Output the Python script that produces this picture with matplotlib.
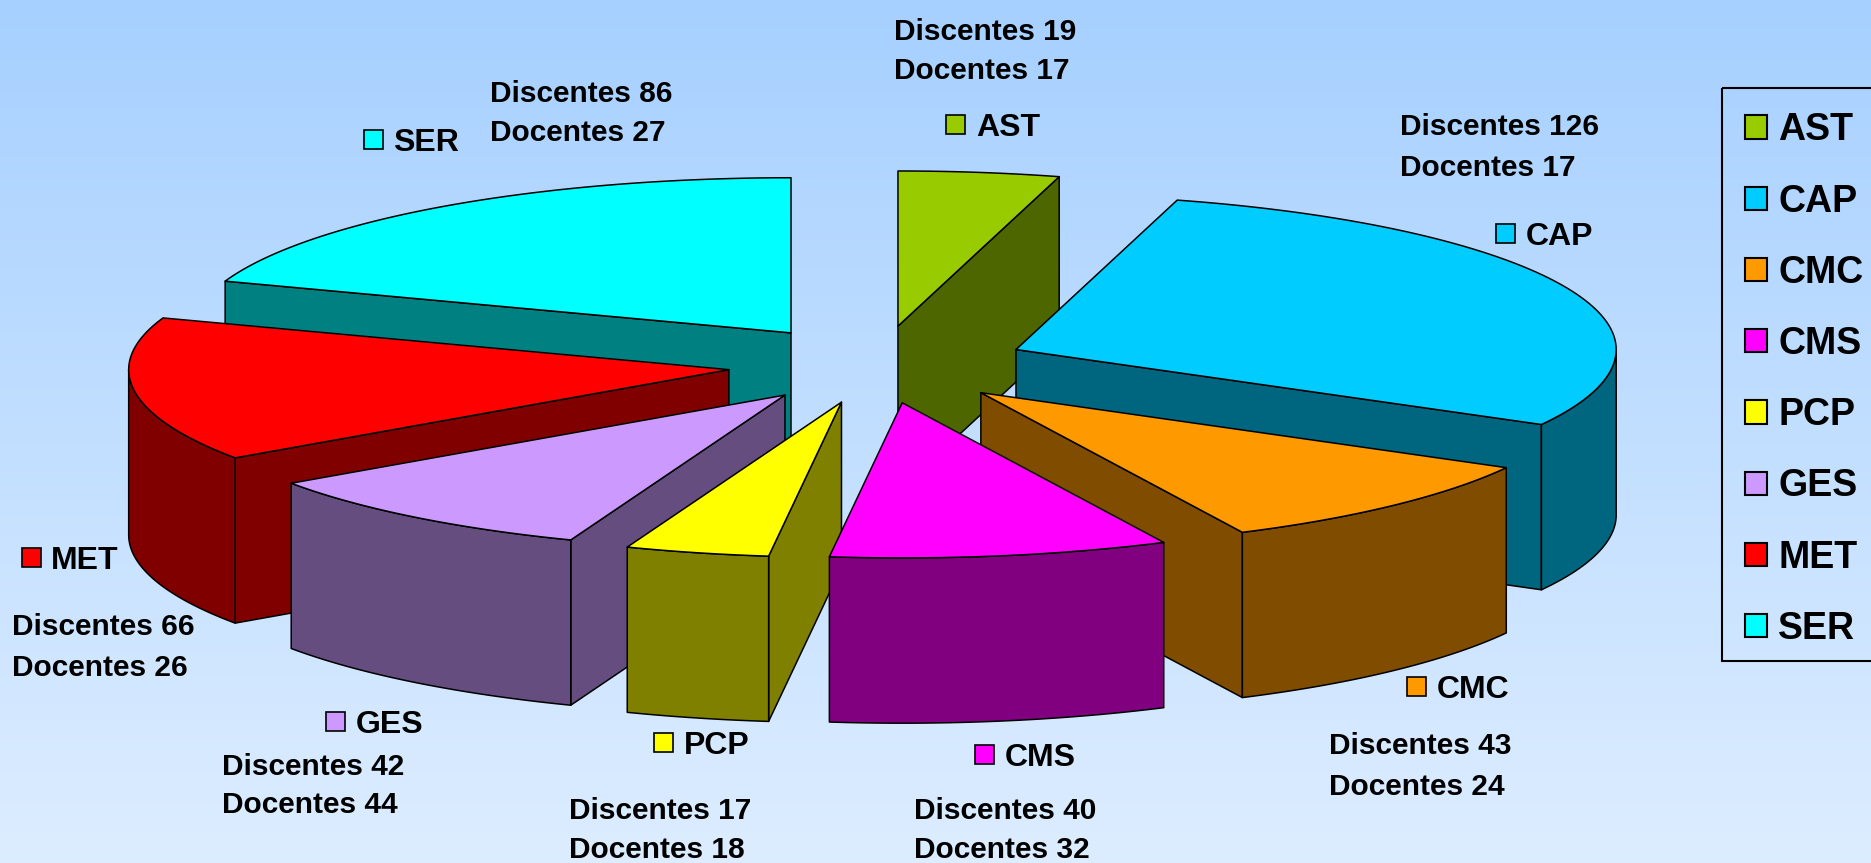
import numpy as np
import matplotlib
matplotlib.use('Agg')
import matplotlib.pyplot as plt
from matplotlib.colors import LinearSegmentedColormap, to_rgb
from matplotlib.patches import Patch, Polygon, Rectangle

# ---- Data ----
areas = ['AST', 'CAP', 'CMC', 'CMS', 'PCP', 'GES', 'MET', 'SER']
discentes = [19, 126, 43, 40, 17, 42, 66, 86]
docentes = [17, 17, 24, 32, 18, 44, 26, 27]
colors = ['#99CC00', '#00CCFF', '#FF9900', '#FF00FF', '#FFFF00', '#CC99FF', '#FF0000', '#00FFFF']

# ---- Layout (px, measured on the 1568 wide preview) ----
S = 1871 / 1568
CX, CY = 735.5 * S, 305.5 * S
RX, RY = 503 * S, 130 * S
DEPTH = 138.5 * S
EXPLODE = 0.25
# square x, name y, text x, first line y, second line y
label_pos = {
    'AST': (801, 104, 749, 24, 57),
    'CAP': (1262, 196, 1173, 104, 138),
    'CMC': (1187, 575, 1114, 623, 657),
    'CMS': (825, 632, 766, 677, 710),
    'PCP': (556, 622, 477, 677, 710),
    'GES': (281, 605, 186, 640, 672),
    'MET': (26, 467, 10, 523, 557),
    'SER': (313, 117, 411, 76, 109),
}

plt.rcParams['font.family'] = ['Liberation Sans', 'DejaVu Sans']
plt.rcParams['font.weight'] = 'bold'

fig = plt.figure(figsize=(18.71, 8.63), dpi=100)
ax = fig.add_axes([0, 0, 1, 1])
ax.set_xlim(0, 1871); ax.set_ylim(863, 0); ax.axis('off')

# ---- Background gradient ----
cmap = LinearSegmentedColormap.from_list('bg', ['#A6D0FF', '#DDEDFF'])
ax.imshow(np.linspace(0, 1, 256)[:, None], cmap=cmap, aspect='auto',
          extent=(0, 1871, 863, 0), zorder=0)


def rim(t, ox, oy, drop=0.0):
    # t in degrees, clockwise from 12 o'clock
    r = np.radians(t)
    return np.column_stack((ox + RX * np.sin(r), oy - RY * np.cos(r) + drop))


def darker(c):
    return tuple(v * 0.5 for v in to_rgb(c))


# ---- Slices, back to front ----
edges = 360 * np.cumsum([0] + discentes) / sum(discentes)
mids = (edges[:-1] + edges[1:]) / 2
order = np.argsort(-np.cos(np.radians(mids)))
kw = dict(edgecolor='k', lw=1.1, joinstyle='round')

for z, i in enumerate(order):
    t0, t1 = edges[i], edges[i + 1]
    m = np.radians(mids[i])
    ox = CX + EXPLODE * RX * np.sin(m)
    oy = CY - EXPLODE * RY * np.cos(m)
    apex = np.array([ox, oy])
    side = darker(colors[i])
    zz = 2 + z

    # radial faces that look at the viewer
    for t, show in ((t0, np.sin(np.radians(t0)) < -1e-6), (t1, np.sin(np.radians(t1)) > 1e-6)):
        if show:
            p = rim(np.array([t]), ox, oy)[0]
            down = np.array([0, DEPTH])
            ax.add_patch(Polygon([apex, p, p + down, apex + down], closed=True,
                                 facecolor=side, zorder=zz, **kw))
    # outer wall, front half only
    a, b = max(t0, 90), min(t1, 270)
    if b > a:
        ts = np.linspace(a, b, 60)
        wall = np.vstack((rim(ts, ox, oy), rim(ts[::-1], ox, oy, DEPTH)))
        ax.add_patch(Polygon(wall, closed=True, facecolor=side, zorder=zz, **kw))
    # top
    ts = np.linspace(t0, t1, 80)
    ax.add_patch(Polygon(np.vstack((apex, rim(ts, ox, oy))), closed=True,
                         facecolor=colors[i], zorder=zz, **kw))

# ---- Data labels ----
SQ = 19
for name, col, n_dis, n_doc in zip(areas, colors, discentes, docentes):
    sx, ny, tx, y1, y2 = label_pos[name]
    ax.add_patch(Rectangle((sx * S - SQ / 2, ny * S - SQ / 2), SQ, SQ, facecolor=col,
                           edgecolor='k', lw=1.2, zorder=20))
    ax.text(sx * S + 20, ny * S, name, fontsize=23, va='center_baseline', zorder=21)
    ax.text(tx * S, y1 * S, f'Discentes {n_dis}', fontsize=21.5, va='center_baseline', zorder=21)
    ax.text(tx * S, y2 * S, f'Docentes {n_doc}', fontsize=21.5, va='center_baseline', zorder=21)

# ---- Legend (box drawn by hand, its bottom padding is tighter than the top) ----
ax.add_patch(Rectangle((1722, 88), 160, 573, facecolor='none', edgecolor='k', lw=1.5, zorder=29))
handles = [Patch(facecolor=c, edgecolor='k', lw=1.5) for c in colors]
leg = ax.legend(handles, areas, loc='upper left', bbox_to_anchor=(1722 / 1871, 1 - 89 / 863),
                fontsize=27, frameon=False, handlelength=0.58, handleheight=0.58,
                handletextpad=0.30, labelspacing=0.94, borderpad=0.62, borderaxespad=0)
leg.set_zorder(30)

fig.savefig('out.png', dpi=100)
